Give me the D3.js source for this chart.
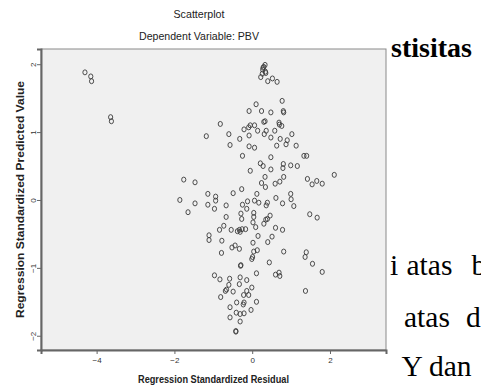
<!DOCTYPE html>
<html lang="en">
<head>
<meta charset="UTF-8">
<title>Scatterplot</title>
<script src="https://d3js.org/d3.v7.min.js"></script>
<style>
    body { margin: 0; background: #fff; }
    svg { display: block; }
    .chart-text { font-family: "Liberation Sans Narrow", "Arial Narrow", "Liberation Sans", sans-serif; fill: #222; }
    .tick-text { font-family: "Liberation Sans Narrow", "Arial Narrow", "Liberation Sans", sans-serif; fill: #333; }
    .doc-text { font-family: "Liberation Serif", "Times New Roman", serif; fill: #000; }
</style>
</head>
<body>
<div id="chart"></div>
<script>
    // regression standardized residual (x) and predicted value (y)
    const residual = [
        -4.30, -4.15, -4.13, -3.64, -3.62,
        0.33, 0.28, 0.27, 0.34, 0.26, 0.22, 0.40, 0.52, 0.64, 0.30, 0.35,
        0.77, 0.10, -0.08, 0.24, 0.48, 0.80, 0.81, -0.82, 0.33, 0.30, 0.69, 0.70, 0.76, -0.05,
        0.06, -0.09, -0.21, 0.14, 0.36, 0.58, 0.31, -0.60, -0.08, 0.48, -1.18, -0.32, 0.72, 0.90,
        1.02, 0.87, 0.63, 1.13, -0.57, -0.08, 0.06, -0.25, 0.48, 1.33, 1.40, 0.21, 0.28, 0.80,
        0.79, 0.99, 1.16, -0.05, 0.48, 2.11, 0.33, 0.81, 1.42, 1.54, 1.66, 1.80, 0.24, 0.34,
        0.59, 0.71, -1.76, -1.47, -1.14, -0.94, -0.49, -0.27, 0.12, -1.86, -1.47, -1.14, -0.94, -0.97,
        -0.67, -1.65, -0.25, -0.12, 0.06, 0.17, 0.39, 0.36, 0.61, 0.78, 0.99, 1.00, 1.07, -0.67,
        -0.29, -0.14, 0.04, 0.04, 0.46, 0.39, 1.48, 1.67,
        -0.27, 0.35, 0.30, 0.02, 0.09, -0.73, -0.84, -0.54, -0.38, -0.33, -0.26, -0.17, -0.31, 0.60,
        0.78, -1.11, -1.11, -0.78, 0.15, 0.51, 0.02, 0.40, -0.79, -0.52, -0.44, -0.33, 0.04, 0.13,
        0.01, -0.01, 0.81, 1.39, 1.36, 0.44, 1.55, -0.29, -0.30, 0.11, 0.60, 0.69, 0.71, 1.80,
        -0.97, -0.83, -0.58, -0.31, -0.14, -0.60, -0.66, -0.69, -0.33, -0.49, -0.01, -0.14, -0.09, -0.22,
        -0.81, 1.37, -0.57, -0.40, -0.21, -0.23, 0.11, -0.03, -0.41, -0.31, -0.21, -0.57, -0.31, -0.42, -0.42
    ];
    const predicted = [
        1.88, 1.82, 1.75, 1.22, 1.16,
        1.99, 1.95, 1.92, 1.89, 1.86, 1.81, 1.75, 1.79, 1.74, 1.96, 1.87,
        1.46, 1.41, 1.31, 1.31, 1.29, 1.31, 1.29, 1.12, 1.16, 1.15, 1.14, 1.11, 1.09, 1.10,
        1.10, 1.07, 1.04, 1.02, 1.02, 1.02, 0.97, 0.97, 0.95, 0.92, 0.94, 0.90, 0.90, 0.88,
        0.97, 0.82, 0.80, 0.80, 0.81, 0.79, 0.77, 0.65, 0.63, 0.65, 0.65, 0.54, 0.50, 0.53,
        0.47, 0.51, 0.50, 0.43, 0.45, 0.37, 0.34, 0.34, 0.31, 0.23, 0.28, 0.24, 0.25, 0.19,
        0.24, 0.27, 0.30, 0.26, 0.09, 0.05, 0.10, 0.16, 0.09, 0.00, -0.05, -0.07, -0.01, -0.13,
        -0.08, -0.18, -0.07, -0.02, -0.01, -0.04, -0.04, -0.08, 0.03, -0.05, 0.09, 0.01, -0.09, -0.25,
        -0.20, -0.13, -0.19, -0.25, -0.23, -0.28, -0.21, -0.26,
        -0.28, -0.29, -0.35, -0.33, -0.40, -0.38, -0.44, -0.44, -0.46, -0.44, -0.43, -0.43, -0.47, -0.41,
        -0.44, -0.52, -0.59, -0.60, -0.53, -0.54, -0.63, -0.62, -0.78, -0.70, -0.67, -0.72, -0.76, -0.74,
        -0.84, -0.87, -0.76, -0.77, -0.84, -0.92, -0.94, -0.96, -0.97, -1.08, -1.10, -1.07, -1.12, -1.06,
        -1.11, -1.17, -1.16, -1.14, -1.18, -1.25, -1.32, -1.34, -1.24, -1.35, -1.29, -1.34, -1.40, -1.40,
        -1.43, -1.34, -1.58, -1.51, -1.51, -1.54, -1.50, -1.62, -1.66, -1.68, -1.67, -1.73, -1.79, -1.93, -1.94
    ];
    const xTicks = [-4, -2, 0, 2];
    const yTicks = [-2, -1, 0, 1, 2];

    const points = residual.map((r, i) => ({ r: r, p: predicted[i] }));

    const width = 481, height = 389;
    const frame = { left: 41, top: 49, right: 386, bottom: 350 };

    const svg = d3.select("#chart").append("svg")
        .attr("width", width)
        .attr("height", height);

    const x = d3.scaleLinear().domain([-5.43, 3.44]).range([frame.left, frame.right]);
    const y = d3.scaleLinear().domain([-2.21, 2.224]).range([frame.bottom, frame.top]);

    // plot background
    svg.append("rect")
        .attr("x", frame.left)
        .attr("y", frame.top)
        .attr("width", frame.right - frame.left)
        .attr("height", frame.bottom - frame.top)
        .attr("fill", "#f0f0f0")
        .attr("stroke", "#8a8a8a")
        .attr("stroke-width", 1);

    // points
    svg.append("g")
        .selectAll("ellipse")
        .data(points)
        .join("ellipse")
        .attr("cx", d => x(d.r))
        .attr("cy", d => y(d.p))
        .attr("rx", 2.1)
        .attr("ry", 2.5)
        .attr("fill", "none")
        .attr("stroke", "#3a3a3a")
        .attr("stroke-width", 0.9);

    // x axis
    const xAxis = svg.append("g")
        .attr("transform", `translate(0,${frame.bottom})`)
        .call(d3.axisBottom(x).tickValues(xTicks).tickSize(4).tickPadding(3).tickFormat(d3.format("d")));
    xAxis.select(".domain").attr("stroke", "#666").attr("stroke-width", 2);
    xAxis.selectAll(".tick line").attr("stroke", "#666");
    xAxis.selectAll(".tick text")
        .attr("class", "tick-text")
        .attr("font-size", 8);

    // y axis, labels turned like the SPSS output
    const yAxis = svg.append("g")
        .attr("transform", `translate(${frame.left},0)`)
        .call(d3.axisLeft(y).tickValues(yTicks).tickSize(4).tickFormat(d3.format("d")));
    yAxis.select(".domain").attr("stroke", "#666").attr("stroke-width", 2);
    yAxis.selectAll(".tick line").attr("stroke", "#666");
    yAxis.selectAll(".tick text")
        .attr("class", "tick-text")
        .attr("font-size", 8)
        .attr("transform", "rotate(-90)")
        .attr("x", 0)
        .attr("y", -5.5)
        .attr("dy", 0)
        .attr("text-anchor", "middle");

    // titles
    svg.append("text")
        .attr("class", "chart-text")
        .attr("x", 199).attr("y", 18)
        .attr("text-anchor", "middle")
        .attr("font-size", 10.5)
        .attr("textLength", 51).attr("lengthAdjust", "spacingAndGlyphs")
        .text("Scatterplot");

    svg.append("text")
        .attr("class", "chart-text")
        .attr("x", 199).attr("y", 40)
        .attr("text-anchor", "middle")
        .attr("font-size", 10.5)
        .attr("textLength", 120).attr("lengthAdjust", "spacingAndGlyphs")
        .text("Dependent Variable: PBV");

    svg.append("text")
        .attr("class", "chart-text")
        .attr("x", (frame.left + frame.right) / 2).attr("y", 383)
        .attr("text-anchor", "middle")
        .attr("font-size", 10.5)
        .attr("font-weight", "bold")
        .attr("textLength", 151).attr("lengthAdjust", "spacingAndGlyphs")
        .text("Regression Standardized Residual");

    svg.append("text")
        .attr("class", "chart-text")
        .attr("transform", `translate(24,${(frame.top + frame.bottom) / 2}) rotate(-90)`)
        .attr("text-anchor", "middle")
        .attr("font-size", 10.5)
        .attr("font-weight", "bold")
        .attr("textLength", 237).attr("lengthAdjust", "spacingAndGlyphs")
        .text("Regression Standardized Predicted Value");

    // surrounding document text, cut by the page crop as in the source
    svg.append("text")
        .attr("class", "doc-text")
        .attr("x", 391).attr("y", 57)
        .attr("font-size", 28)
        .attr("font-weight", "bold")
        .text("stisitas");

    const docWords = [
        { t: "i", x: 390, y: 275 }, { t: "atas", x: 406.5, y: 275 }, { t: "b", x: 471.5, y: 275 },
        { t: "atas", x: 404, y: 326.5 }, { t: "d", x: 466, y: 326.5 },
        { t: "Y", x: 401.5, y: 376 }, { t: "dan", x: 429, y: 376 }
    ];
    svg.append("g")
        .selectAll("text")
        .data(docWords)
        .join("text")
        .attr("class", "doc-text")
        .attr("x", d => d.x)
        .attr("y", d => d.y)
        .attr("font-size", 29.5)
        .text(d => d.t);
</script>
</body>
</html>
